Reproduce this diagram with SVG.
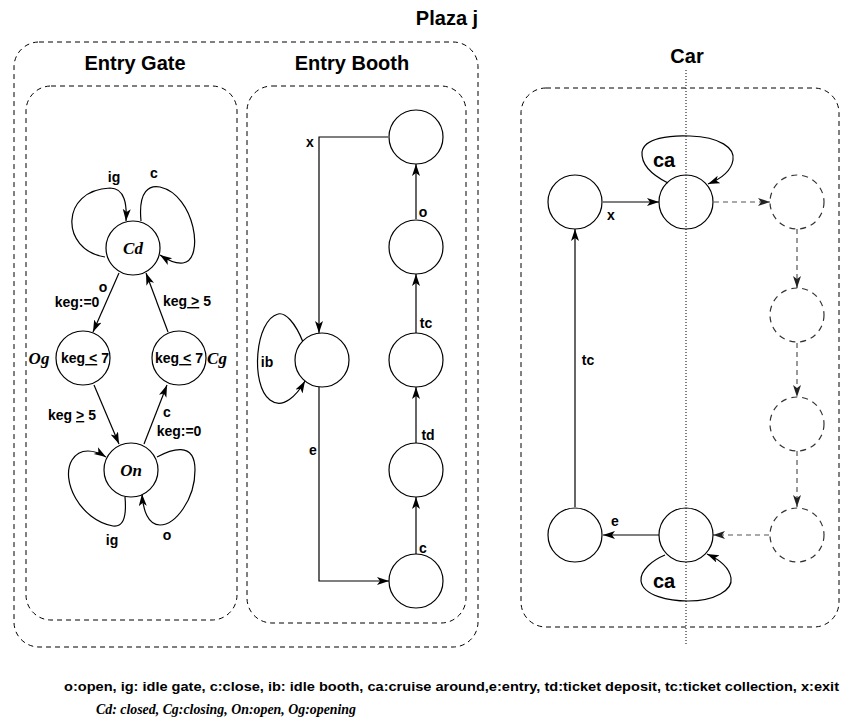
<svg xmlns="http://www.w3.org/2000/svg" width="843" height="727" viewBox="0 0 843 727">
<style>
.frame{fill:none;stroke:#000;stroke-width:1;stroke-dasharray:5,4}
.st{fill:#fff;stroke:#000;stroke-width:1.2}
.dst{fill:#fff;stroke:#333;stroke-width:1.2;stroke-dasharray:6,5}
.e{fill:none;stroke:#000;stroke-width:1.2;marker-end:url(#ah)}
.de{fill:none;stroke:#555;stroke-width:1.2;stroke-dasharray:5,4;marker-end:url(#ahg)}
.ttl{font-family:"Liberation Sans",Arial,sans-serif;font-weight:bold;font-size:20px;text-anchor:middle}
.lb{font-family:"Liberation Sans",Arial,sans-serif;font-weight:bold;font-size:14px;text-anchor:middle}
.ca{font-family:"Liberation Sans",Arial,sans-serif;font-weight:bold;font-size:20px;text-anchor:middle}
.it{font-family:"Liberation Serif","Times New Roman",serif;font-weight:bold;font-style:italic;font-size:17px;text-anchor:middle}
.leg{font-family:"Liberation Sans",Arial,sans-serif;font-weight:bold;font-size:13px}
.leg2{font-family:"Liberation Serif","Times New Roman",serif;font-weight:bold;font-style:italic;font-size:14px}
</style>
<defs>
<marker id="ah" markerUnits="userSpaceOnUse" markerWidth="14" markerHeight="10" refX="12" refY="4" orient="auto"><path d="M0,0 L12,4 L0,8 L3,4 z" fill="#000"/></marker>
<marker id="ahg" markerUnits="userSpaceOnUse" markerWidth="14" markerHeight="10" refX="12" refY="4" orient="auto"><path d="M0,0 L12,4 L0,8 L3,4 z" fill="#222"/></marker>
</defs>
<rect width="843" height="727" fill="#fff"/>

<g id="frames">
<rect class="frame" x="14" y="42" width="464" height="605" rx="25"/>
<rect class="frame" x="26" y="86" width="211" height="534" rx="25"/>
<rect class="frame" x="247" y="86" width="219" height="537" rx="25"/>
<rect class="frame" x="521" y="88" width="318" height="539" rx="25"/>
<line x1="686" y1="70" x2="686" y2="645" stroke="#000" stroke-width="1" stroke-dasharray="1,2"/>
<text class="ttl" x="447" y="25">Plaza j</text>
<text class="ttl" x="135" y="70">Entry Gate</text>
<text class="ttl" x="352" y="70">Entry Booth</text>
<text class="ttl" x="687" y="63">Car</text>
</g>

<g id="connectors">
<!-- Entry Gate -->
<path class="e" d="M105,257 C60,250 60,190 110,188 C125,188 127,205 126,221"/>
<path class="e" d="M141,221 C138,190 150,185 160,187 C195,195 205,260 183,263 C175,264 166,259 160,255"/>
<path class="e" d="M119,273 L93,332"/>
<path class="e" d="M168,332 L146,273"/>
<path class="e" d="M94,385 L119,444"/>
<path class="e" d="M144,444 L167,385"/>
<path class="e" d="M125,497 C127,520 122,527 113,526 C80,520 60,480 72,460 C80,447 95,450 106,457"/>
<path class="e" d="M157,457 C170,450 195,440 195,470 C195,500 175,525 160,525 C148,525 143,510 142,494"/>
<!-- Entry Booth -->
<path class="e" d="M388,137 H319 V333"/>
<path class="e" d="M319,387 V581 H389"/>
<path class="e" d="M416,554 L416,497"/>
<path class="e" d="M416,443 L416,387"/>
<path class="e" d="M416,333 L416,274"/>
<path class="e" d="M416,219 L416,164"/>
<path class="e" d="M303,342 C295,322 285,312 278,314 C255,320 250,385 270,400 C283,410 297,395 305,381"/>
<!-- Car -->
<path class="e" d="M603,202 L659,202"/>
<path class="de" d="M714,202 L770,202"/>
<path class="de" d="M797,229 L797,288"/>
<path class="de" d="M797,343 L797,397"/>
<path class="de" d="M797,451 L797,507"/>
<path class="de" d="M769,535 L713,535"/>
<path class="e" d="M659,535 L603,535"/>
<path class="e" d="M575,507 L575,229"/>
<path class="e" d="M668,183 C654,176 641,166 642,152 C644,138 670,135 690,136 C720,137 735,148 733,160 C731,172 718,180 708,184"/>
<path class="e" d="M665,555 C653,560 640,570 641,581 C643,596 670,601 688,601 C715,601 733,590 731,578 C729,566 716,558 707,554"/>
</g>

<g id="edge-labels">
<text class="lb" x="114" y="182">ig</text>
<text class="lb" x="154" y="178">c</text>
<text class="lb" x="103" y="292">o</text>
<text class="lb" x="77" y="307">keg:=0</text>
<text class="lb" x="187" y="306">keg<tspan text-decoration="underline"> &gt;</tspan> 5</text>
<text class="lb" x="72" y="420">keg <tspan text-decoration="underline">&gt;</tspan> 5</text>
<text class="lb" x="167" y="417">c</text>
<text class="lb" x="179" y="436">keg:=0</text>
<text class="lb" x="112" y="545">ig</text>
<text class="lb" x="167" y="540">o</text>
<text class="lb" x="310" y="147">x</text>
<text class="lb" x="313" y="455">e</text>
<text class="lb" x="423" y="553">c</text>
<text class="lb" x="428" y="440">td</text>
<text class="lb" x="426" y="328">tc</text>
<text class="lb" x="423" y="217">o</text>
<text class="lb" x="267" y="367">ib</text>
<text class="lb" x="611" y="220">x</text>
<text class="lb" x="615" y="526">e</text>
<text class="lb" x="588" y="365">tc</text>
<text class="ca" x="664" y="167">ca</text>
<text class="ca" x="664" y="588">ca</text>
</g>

<g id="Cd"><circle class="st" cx="133" cy="248" r="27"/><text class="it" x="133" y="254">Cd</text></g>
<g id="Og"><circle class="st" cx="83" cy="358" r="27"/><text class="lb" x="85" y="363">keg<tspan text-decoration="underline"> &lt;</tspan> 7</text><text class="it" x="39" y="364">Og</text></g>
<g id="Cg"><circle class="st" cx="179" cy="358" r="27"/><text class="lb" x="179" y="363">keg<tspan text-decoration="underline"> &lt;</tspan> 7</text><text class="it" x="217" y="364">Cg</text></g>
<g id="On"><circle class="st" cx="131" cy="470" r="27"/><text class="it" x="131" y="476">On</text></g>

<g id="booth1"><circle class="st" cx="416" cy="137" r="27"/></g>
<g id="booth2"><circle class="st" cx="416" cy="247" r="27"/></g>
<g id="booth3"><circle class="st" cx="416" cy="360" r="27"/></g>
<g id="booth4"><circle class="st" cx="416" cy="470" r="27"/></g>
<g id="booth5"><circle class="st" cx="416" cy="581" r="27"/></g>
<g id="boothIdle"><circle class="st" cx="322" cy="360" r="27"/></g>

<g id="carA"><circle class="st" cx="575" cy="202" r="27"/></g>
<g id="carB"><circle class="st" cx="686" cy="202" r="27" fill-opacity="0"/></g>
<g id="carC"><circle class="dst" cx="797" cy="202" r="27"/></g>
<g id="carD"><circle class="dst" cx="797" cy="315" r="27"/></g>
<g id="carE"><circle class="dst" cx="797" cy="424" r="27"/></g>
<g id="carF"><circle class="dst" cx="797" cy="535" r="27"/></g>
<g id="carG"><circle class="st" cx="686" cy="535" r="27" fill-opacity="0"/></g>
<g id="carH"><circle class="st" cx="575" cy="535" r="27"/></g>

<g id="legend">
<text class="leg" x="64" y="691" textLength="775" lengthAdjust="spacingAndGlyphs">o:open, ig: idle gate, c:close, ib: idle booth, ca:cruise around,e:entry, td:ticket deposit, tc:ticket collection, x:exit</text>
<text class="leg2" x="96" y="714" textLength="260" lengthAdjust="spacingAndGlyphs">Cd: closed, Cg:closing, On:open, Og:opening</text>
</g>
</svg>
